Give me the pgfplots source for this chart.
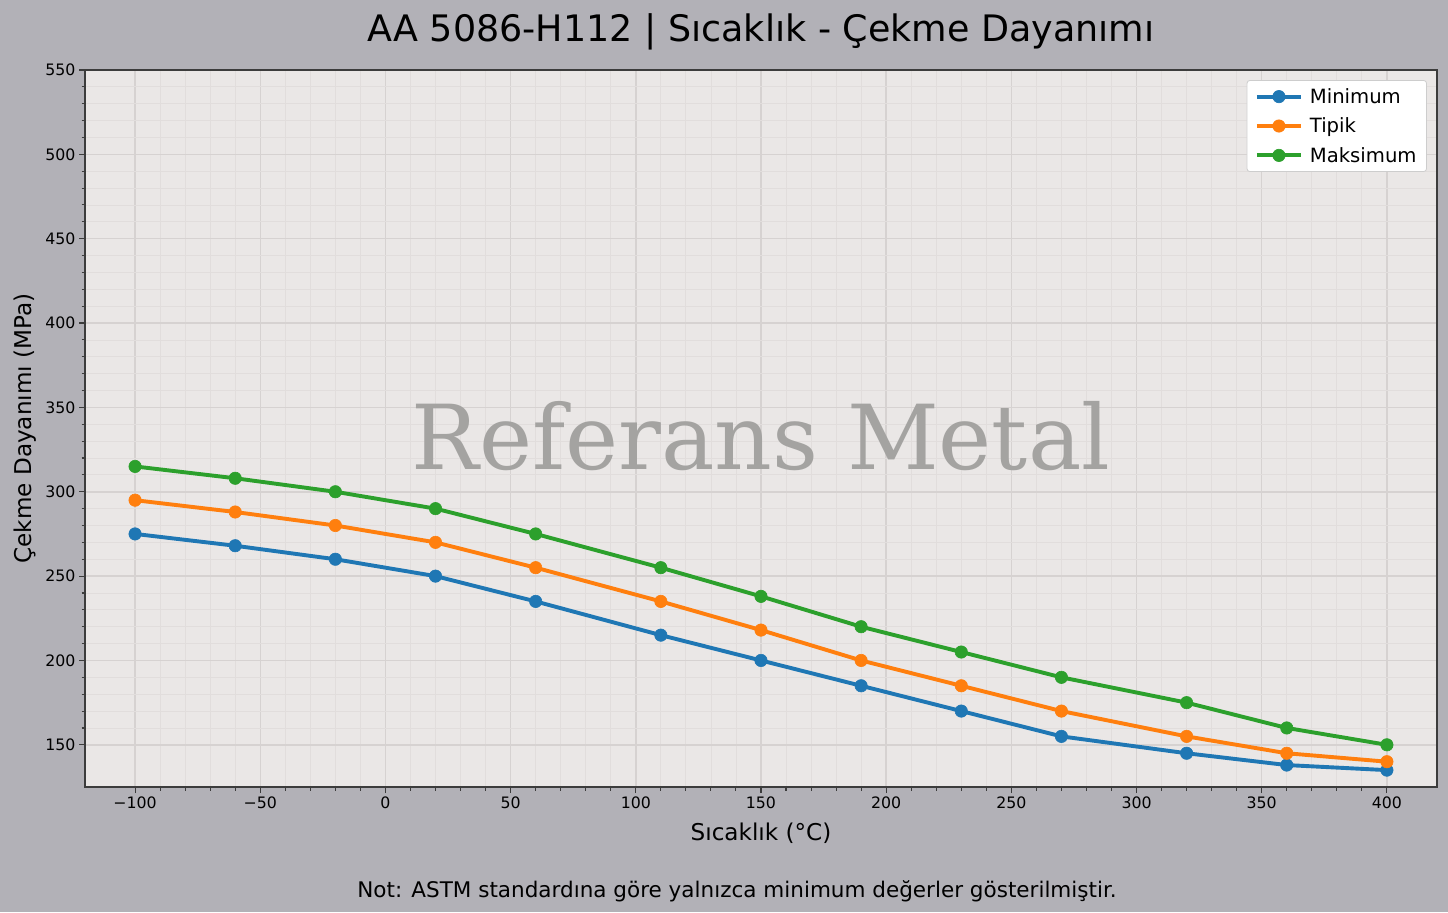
\documentclass[border=0pt]{standalone}
\usepackage{pgfplots}
\pgfplotsset{compat=1.18}
\usepackage{fontspec}
\setmainfont{DejaVu Sans}
\newfontfamily\wmfont{DejaVu Serif}

\definecolor{figbg}{RGB}{178,177,183}
\definecolor{axbg}{RGB}{234,231,230}
\definecolor{gridmaj}{RGB}{214,210,209}
\definecolor{gridmin}{RGB}{225,221,220}
\definecolor{spine}{RGB}{60,60,60}
\definecolor{legbd}{RGB}{205,205,205}
\definecolor{cmin}{HTML}{1F77B4}
\definecolor{ctip}{HTML}{FF7F0E}
\definecolor{cmax}{HTML}{2CA02C}
\definecolor{wm}{RGB}{164,163,161}

\begin{document}
\begin{tikzpicture}[x=1bp,y=1bp]
\fill[figbg] (0,0) rectangle (1448,912);

% title, footnote
\node[font=\fontsize{36.6}{40}\selectfont] at (761,880) {AA 5086-H112 | Sıcaklık - Çekme Dayanımı};
\node[font=\fontsize{21.6}{24}\selectfont] at (737,21) {Not: ASTM standardına göre yalnızca minimum değerler gösterilmiştir.};

\begin{axis}[
    at={(85bp,125bp)}, anchor=south west,
    scale only axis,
    width=1352bp, height=717bp,
    xmin=-120, xmax=420,
    ymin=125, ymax=550,
    axis background/.style={fill=axbg},
    axis line style={draw=spine, line width=1.8bp},
    tick align=outside,
    xtick pos=left, ytick pos=left,
    tick style={draw=spine, line width=1.1bp},
    major tick length=6bp,
    minor tick length=3.5bp,
    xtick={-100,-50,0,50,100,150,200,250,300,350,400},
    xticklabels={−100,−50,0,50,100,150,200,250,300,350,400},
    ytick={150,200,250,300,350,400,450,500,550},
    minor x tick num=4,
    minor y tick num=4,
    grid=both,
    major grid style={draw=gridmaj, line width=1.5bp},
    minor grid style={draw=gridmin, line width=0.8bp},
    ticklabel style={font=\fontsize{15.8}{18}\selectfont},
    /pgf/number format/assume math mode=true,
    xlabel={Sıcaklık (°C)},
    ylabel={Çekme Dayanımı (MPa)},
    xlabel style={yshift=-8bp},
    ylabel style={yshift=2bp},
    label style={font=\fontsize{23.2}{26}\selectfont},
    legend style={
        at={(0.9926,0.986)}, anchor=north east,
        draw=legbd, fill=white, rounded corners=3bp, line width=0.8bp,
        font=\fontsize{19.7}{22}\selectfont,
        row sep=9bp, inner xsep=8bp, inner ysep=6bp
    },
    legend cell align=left,
    legend image code/.code={
        \draw[mark repeat=2,mark phase=2] plot coordinates {(0bp,0bp) (22bp,0bp) (44bp,0bp)};
        \path (49bp,0bp);
    },
    every axis plot/.append style={line width=3.9bp, mark=*, mark size=6.2bp, mark options={solid, line width=0.6bp}},
]
\node[font=\wmfont\fontsize{90}{90}\selectfont, text=wm, anchor=base] at (axis cs:150,313) {Referans Metal};

\addplot[color=cmin] coordinates {
(-100,275) (-60,268) (-20,260) (20,250) (60,235) (110,215) (150,200)
(190,185) (230,170) (270,155) (320,145) (360,138) (400,135)
};
\addlegendentry{Minimum}
\addplot[color=ctip] coordinates {
(-100,295) (-60,288) (-20,280) (20,270) (60,255) (110,235) (150,218)
(190,200) (230,185) (270,170) (320,155) (360,145) (400,140)
};
\addlegendentry{Tipik}
\addplot[color=cmax] coordinates {
(-100,315) (-60,308) (-20,300) (20,290) (60,275) (110,255) (150,238)
(190,220) (230,205) (270,190) (320,175) (360,160) (400,150)
};
\addlegendentry{Maksimum}
\end{axis}
\end{tikzpicture}
\end{document}
